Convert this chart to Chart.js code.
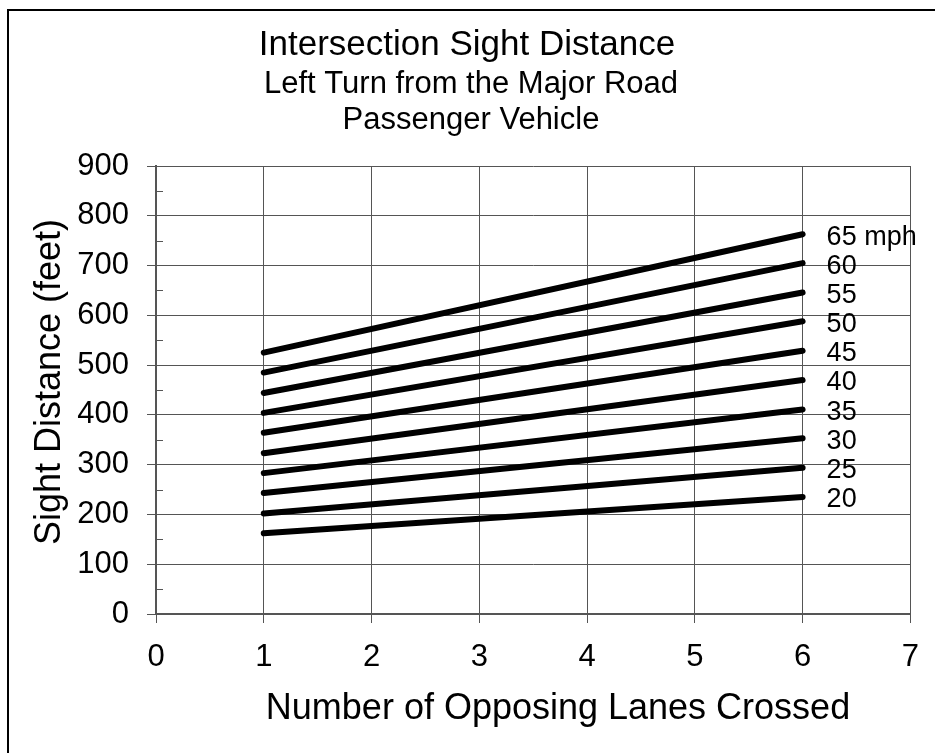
<!DOCTYPE html>
<html>
<head>
<meta charset="utf-8">
<script src="https://cdn.jsdelivr.net/npm/chart.js@4/dist/chart.umd.min.js"></script>
<style>
html,body{margin:0;padding:0;background:#fff;}
#wrap{width:935px;height:753px;position:relative;}
</style>
</head>
<body>
<div id="wrap"><canvas id="c" width="935" height="753"></canvas></div>
<script>
// ---- data ----
const lanes = [1, 6];
const speedLabels = ['65 mph', '60', '55', '50', '45', '40', '35', '30', '25', '20'];
const sd65 = [525, 763];
const sd60 = [485, 705];
const sd55 = [444, 646];
const sd50 = [404, 588];
const sd45 = [364, 529];
const sd40 = [323, 470];
const sd35 = [283, 411];
const sd30 = [243, 353];
const sd25 = [202, 294];
const sd20 = [162, 235];
const seriesValues = [sd65, sd60, sd55, sd50, sd45, sd40, sd35, sd30, sd25, sd20];
const xTicks = [0, 1, 2, 3, 4, 5, 6, 7];
const yTicks = [0, 100, 200, 300, 400, 500, 600, 700, 800, 900];
const titleText = 'Intersection Sight Distance';
const subtitleLines = ['Left Turn from the Major Road', 'Passenger Vehicle'];
const xTitle = 'Number of Opposing Lanes Crossed';
const yTitle = 'Sight Distance (feet)';

const FONT = '"Liberation Sans", Arial, sans-serif';

const datasets = seriesValues.map((vals, i) => ({
  label: speedLabels[i],
  data: lanes.map((x, j) => ({x: x, y: vals[j]})),
  borderColor: '#000',
  backgroundColor: '#000',
  borderWidth: 6,
  pointRadius: 0,
  borderCapStyle: 'round',
  tension: 0,
  fill: false
}));

const decor = {
  id: 'decor',
  beforeDraw(chart) {
    const ctx = chart.ctx;
    ctx.save();
    ctx.fillStyle = '#fff';
    ctx.fillRect(0, 0, chart.width, chart.height);
    ctx.strokeStyle = '#000';
    ctx.lineWidth = 2;
    ctx.beginPath();
    ctx.moveTo(8, 760);
    ctx.lineTo(8, 10);
    ctx.lineTo(940, 10);
    ctx.stroke();
    ctx.restore();
  },
  afterDraw(chart) {
    const ctx = chart.ctx;
    const xs = chart.scales.x, ys = chart.scales.y;
    ctx.save();
    // minor ticks (inside) at 50s
    ctx.strokeStyle = '#555';
    ctx.lineWidth = 1;
    for (let v = 50; v < 900; v += 100) {
      const py = Math.round(ys.getPixelForValue(v)) + 0.5;
      ctx.beginPath();
      ctx.moveTo(xs.left, py);
      ctx.lineTo(xs.left + 7, py);
      ctx.stroke();
    }
    ctx.fillStyle = '#000';
    ctx.textAlign = 'center';
    ctx.textBaseline = 'alphabetic';
    ctx.font = '35px ' + FONT;
    ctx.fillText(titleText, 467, 55);
    ctx.font = '31px ' + FONT;
    ctx.fillText(subtitleLines[0], 471, 93);
    ctx.fillText(subtitleLines[1], 471, 129);
    // axis titles
    ctx.font = '36px ' + FONT;
    ctx.fillText(xTitle, 558, 719);
    ctx.save();
    ctx.translate(60, 382);
    ctx.rotate(-Math.PI / 2);
    ctx.fillText(yTitle, 0, 0);
    ctx.restore();
    // series labels at right end
    ctx.font = '27px ' + FONT;
    ctx.textAlign = 'left';
    ctx.textBaseline = 'middle';
    chart.data.datasets.forEach((ds, i) => {
      const meta = chart.getDatasetMeta(i);
      const last = meta.data[meta.data.length - 1];
      ctx.fillText(ds.label, last.x + 24, last.y + 3);
    });
    ctx.restore();
  }
};

new Chart(document.getElementById('c'), {
  type: 'line',
  data: { datasets: datasets },
  options: {
    responsive: false,
    animation: false,
    devicePixelRatio: 1,
    layout: { padding: { left: 0, right: 24, top: 166, bottom: 0 } },
    plugins: { legend: { display: false }, tooltip: { enabled: false }, title: { display: false } },
    scales: {
      x: {
        type: 'linear',
        min: 0, max: 7,
        afterFit(s) { s.height = 139; },
        afterBuildTicks(s) { s.ticks = xTicks.map(v => ({value: v})); },
        ticks: { color: '#000', font: { family: FONT, size: 31 }, padding: 16, maxRotation: 0 },
        grid: { color: '#555', lineWidth: 1, tickLength: 9, tickColor: '#555' },
        border: { color: '#555', width: 2 }
      },
      y: {
        type: 'linear',
        min: 0, max: 900,
        afterFit(s) { s.width = 156; },
        afterBuildTicks(s) { s.ticks = yTicks.map(v => ({value: v})); },
        ticks: { color: '#000', font: { family: FONT, size: 31 }, padding: 18 },
        grid: { color: '#555', lineWidth: 1, tickLength: 9, tickColor: '#555' },
        border: { color: '#555', width: 2 }
      }
    }
  },
  plugins: [decor]
});
</script>
</body>
</html>
